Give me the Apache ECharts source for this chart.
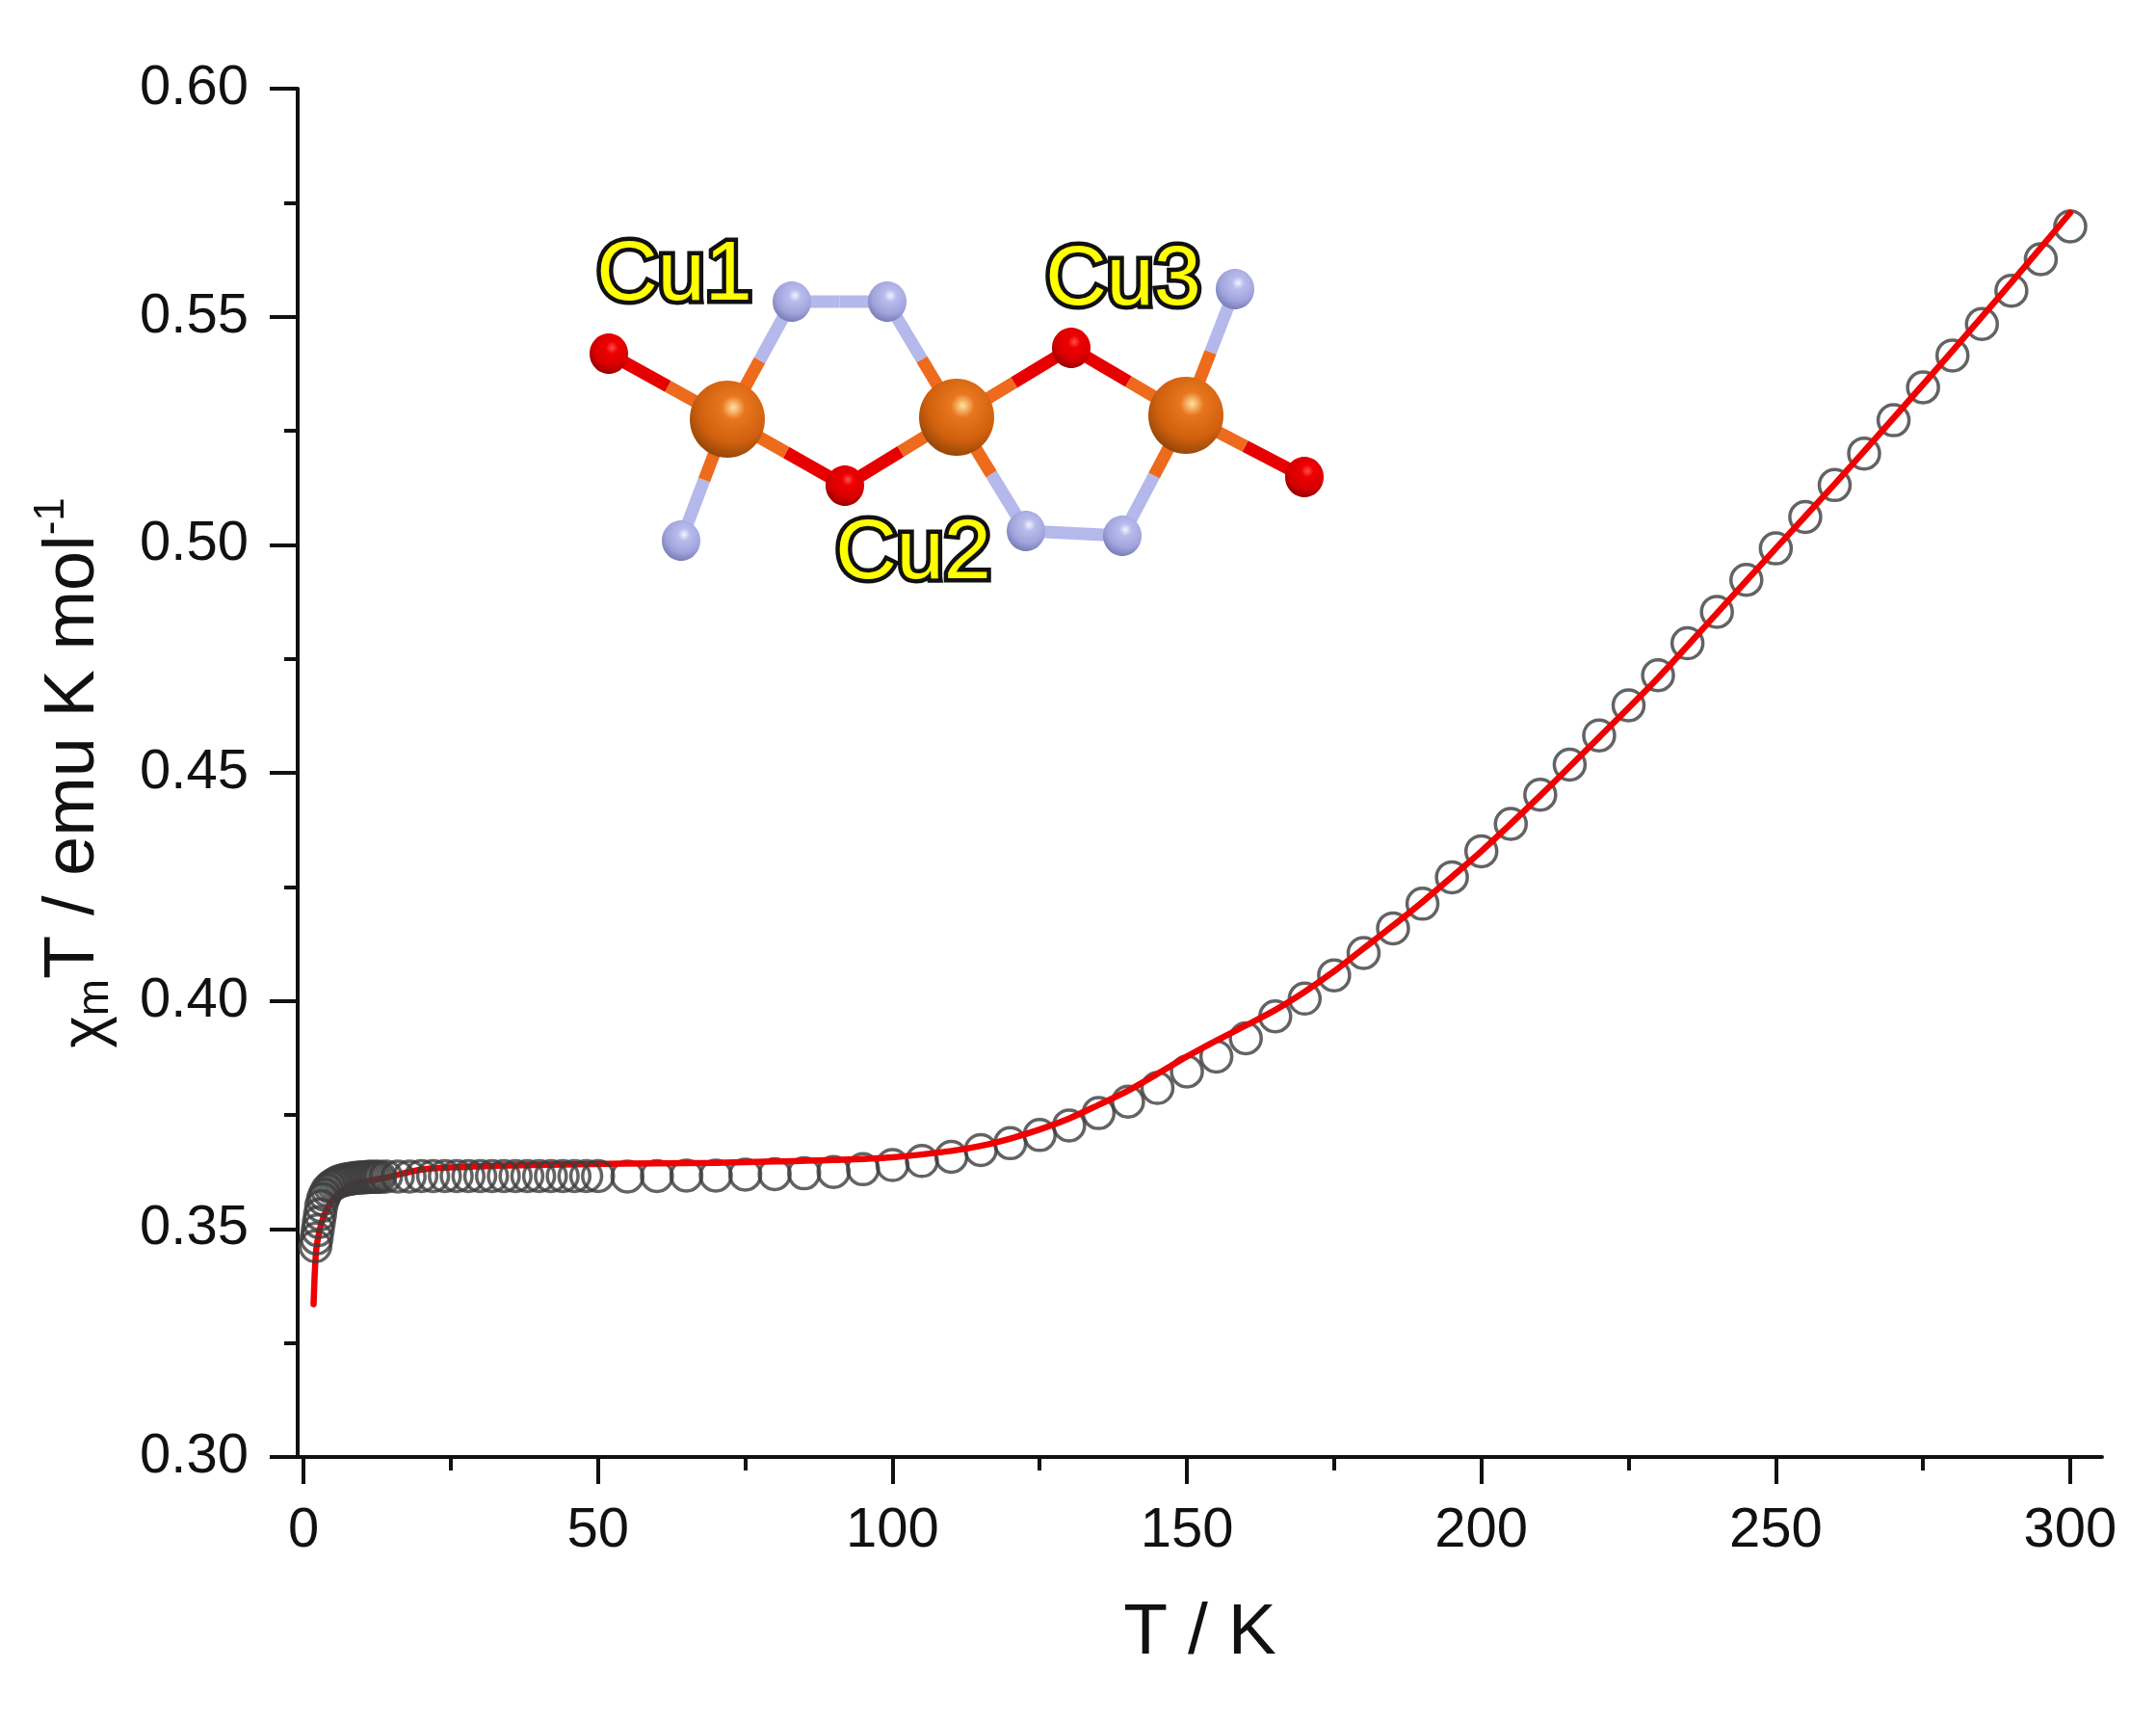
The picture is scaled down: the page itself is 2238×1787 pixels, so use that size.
<!DOCTYPE html>
<html>
<head>
<meta charset="utf-8">
<title>chi T vs T</title>
<script src="https://cdn.jsdelivr.net/npm/echarts@6/dist/echarts.min.js"></script>
<style>
html, body { margin: 0; padding: 0; background: #fff; }
#main { width: 2238px; height: 1787px; }
</style>
</head>
<body>
<div id="main"></div>
<script>
// data
var lowT = [2, 2.2, 2.4, 2.6, 2.8, 3, 3.3, 3.6, 4, 4.5, 5, 5.5, 6, 6.5, 7, 7.5, 8, 8.5, 9, 9.5, 10, 10.5, 11, 11.5, 12, 12.5, 13,
	14, 16, 18, 20, 22, 24, 26, 28, 30, 32, 34, 36, 38, 40, 42, 44, 46, 48, 50];
var lowChi = [0.3462, 0.3479, 0.3497, 0.3515, 0.3532, 0.355, 0.3565, 0.3575, 0.3585, 0.3592, 0.3597, 0.3601, 0.3604, 0.3606, 0.3608, 0.3609, 0.361, 0.3611, 0.3612, 0.3612, 0.3613, 0.3613, 0.3614, 0.3614, 0.3614, 0.3614, 0.3614,
	0.3615, 0.3615, 0.3615, 0.3616, 0.3616, 0.3616, 0.3616, 0.3616, 0.3616, 0.3616, 0.3616, 0.3616, 0.3616, 0.3616, 0.3616, 0.3616, 0.3616, 0.3616, 0.3616];
var highT = [55, 60, 65, 70, 75, 80, 85, 90, 95, 100, 105, 110, 115, 120, 125, 130, 135, 140, 145, 150, 155, 160, 165, 170, 175, 180, 185, 190, 195, 200,
	205, 210, 215, 220, 225, 230, 235, 240, 245, 250, 255, 260, 265, 270, 275, 280, 285, 290, 295, 300];
var highChi = [0.3615, 0.3616, 0.3617, 0.3617, 0.3619, 0.362, 0.3622, 0.3625, 0.3631, 0.364, 0.3649, 0.3658, 0.3673, 0.3688, 0.3706, 0.3727, 0.3754, 0.3779, 0.3809, 0.3845, 0.3878, 0.3918, 0.3966, 0.4005, 0.4056, 0.4105, 0.4159, 0.4213, 0.4271, 0.4328,
	0.4388, 0.4452, 0.4518, 0.4582, 0.4648, 0.4714, 0.4784, 0.4853, 0.4923, 0.4992, 0.5061, 0.5131, 0.52, 0.5273, 0.5345, 0.5415, 0.5484, 0.5557, 0.5626, 0.5698];
var fitT = [1.7, 2.1, 2.6, 3.2, 3.8, 5, 6.5, 8, 10, 13.4, 20, 27.5, 35, 49, 60, 70, 80, 90, 100, 110, 115, 120, 125, 130, 135, 140, 145, 150, 155, 160, 165, 170, 175, 180, 185, 190, 195, 200,
	210, 220, 230, 240, 250, 260, 270, 280, 290, 300];
var fitChi = [0.3335, 0.3448, 0.349, 0.352, 0.3539, 0.3565, 0.3583, 0.3595, 0.3603, 0.3611, 0.363, 0.3636, 0.3639, 0.3642, 0.3644, 0.3645, 0.3648, 0.3651, 0.3657, 0.3671, 0.3682, 0.3698, 0.3718, 0.3742, 0.3772, 0.3803, 0.384, 0.3878, 0.3913, 0.3946, 0.398, 0.402, 0.4065, 0.4115, 0.4165, 0.4217, 0.4272, 0.4328,
	0.445, 0.4578, 0.4708, 0.485, 0.4992, 0.5133, 0.5278, 0.5425, 0.5575, 0.5728];
var xMajorTicks = [0, 50, 100, 150, 200, 250, 300];
var xMinorTicks = [25, 75, 125, 175, 225, 275];

var FONT = '"Liberation Sans", Arial, sans-serif';
var INK = '#111';

function zip(xs, ys) {
	return xs.map(function (x, i) { return [x, ys[i]]; });
}

// molecule inset, page pixels
var atoms = {
	O1: [632, 367, 'O'], O2: [877, 504, 'O'], O3: [1112, 361, 'O'], O4: [1354, 495, 'O'],
	N1: [822, 313, 'N'], N2: [921, 313, 'N'], N3: [707, 561, 'N'], N4: [1282, 300, 'N'], N5: [1065, 551, 'N'], N6: [1165, 556, 'N'],
	Cu1: [755, 435, 'Cu'], Cu2: [993, 433, 'Cu'], Cu3: [1231, 431, 'Cu']
};
var bonds = [['O1', 'Cu1'], ['N1', 'Cu1'], ['N1', 'N2'], ['N2', 'Cu2'], ['O2', 'Cu1'], ['O2', 'Cu2'], ['O3', 'Cu2'], ['O3', 'Cu3'],
	['N4', 'Cu3'], ['O4', 'Cu3'], ['N3', 'Cu1'], ['N5', 'Cu2'], ['N5', 'N6'], ['N6', 'Cu3']];
var bondColor = { O: '#e60000', N: '#b4b8ea', Cu: '#ee6a1c' };
var atomLook = {
	O: { rx: 20, ry: 21, stops: ['#ff5050', '#ee0000', '#d80000', '#900000'] },
	N: { rx: 20, ry: 21, stops: ['#f4f4ff', '#b8bcec', '#a0a4dc', '#7478b0'] },
	Cu: { rx: 39, ry: 40, stops: ['#ffe0a0', '#e8761e', '#d0600e', '#8a4206'] }
};

function moleculeElements() {
	var els = [];
	bonds.forEach(function (b) {
		var p = atoms[b[0]], q = atoms[b[1]];
		var mx = (p[0] + q[0]) / 2, my = (p[1] + q[1]) / 2;
		els.push({ type: 'line', z: 20, shape: { x1: p[0], y1: p[1], x2: mx, y2: my }, style: { stroke: bondColor[p[2]], lineWidth: 13 } });
		els.push({ type: 'line', z: 20, shape: { x1: mx, y1: my, x2: q[0], y2: q[1] }, style: { stroke: bondColor[q[2]], lineWidth: 13 } });
	});
	Object.keys(atoms).forEach(function (k) {
		var a = atoms[k], look = atomLook[a[2]];
		els.push({
			type: 'ellipse', z: 21,
			shape: { cx: a[0], cy: a[1], rx: look.rx, ry: look.ry },
			style: {
				fill: {
					type: 'radial', x: 0.58, y: 0.35, r: 0.72,
					colorStops: [
						{ offset: 0, color: look.stops[0] }, { offset: 0.22, color: look.stops[1] },
						{ offset: 0.65, color: look.stops[2] }, { offset: 1, color: look.stops[3] }
					]
				}
			}
		});
	});
	[['Cu1', 700, 287], ['Cu2', 948, 576], ['Cu3', 1166, 292]].forEach(function (t) {
		els.push({
			type: 'text', z: 22,
			style: {
				x: t[1], y: t[2], text: t[0], align: 'center', verticalAlign: 'middle',
				font: '88px ' + FONT, fill: '#ffff00', stroke: '#111', lineWidth: 9, strokeFirst: true
			}
		});
	});
	return els;
}

var myChart = echarts.init(document.getElementById('main'));
myChart.setOption({
	backgroundColor: '#fff',
	animation: false,
	grid: { left: 309, right: 56, top: 92, bottom: 275, outerBoundsMode: 'none' },
	xAxis: [{
		type: 'value', position: 'bottom', min: -1, max: 305.4,
		name: 'T / K', nameLocation: 'middle', nameGap: 146,
		nameTextStyle: { fontFamily: FONT, fontSize: 75, color: INK },
		axisLine: { onZero: false, lineStyle: { color: INK, width: 4 } },
		axisTick: { length: 28, customValues: xMajorTicks, lineStyle: { color: INK, width: 4 } },
		axisLabel: { customValues: xMajorTicks, margin: 48, fontFamily: FONT, fontSize: 58, color: INK, showMinLabel: true, showMaxLabel: true },
		splitLine: { show: false }
	}, {
		// second axis only carries the short ticks
		type: 'value', position: 'bottom', min: -1, max: 305.4,
		axisLine: { show: false },
		axisTick: { length: 14, customValues: xMinorTicks, lineStyle: { color: INK, width: 4 } },
		axisLabel: { show: false },
		splitLine: { show: false }
	}],
	yAxis: {
		type: 'value', min: 0.30, max: 0.60, interval: 0.05,
		name: '{chi|χ}{sub|m}{main|T / emu K mol}{sup|-1}',
		nameLocation: 'middle', nameRotate: 90, nameGap: 187,
		nameTextStyle: {
			fontFamily: FONT, color: INK,
			rich: {
				main: { fontFamily: FONT, fontSize: 74, color: INK, lineHeight: 90, verticalAlign: 'middle' },
				chi: { fontFamily: FONT, fontSize: 64, color: INK, lineHeight: 70, verticalAlign: 'bottom' },
				sub: { fontFamily: FONT, fontSize: 46, color: INK, lineHeight: 50, verticalAlign: 'bottom' },
				sup: { fontFamily: FONT, fontSize: 44, color: INK, lineHeight: 50, verticalAlign: 'top' }
			}
		},
		axisLine: { onZero: false, lineStyle: { color: INK, width: 4 } },
		axisTick: { length: 29, lineStyle: { color: INK, width: 4 } },
		minorTick: { show: true, splitNumber: 2, length: 14, lineStyle: { color: INK, width: 4 } },
		axisLabel: {
			margin: 51, fontFamily: FONT, fontSize: 58, color: INK,
			formatter: function (v) { return v.toFixed(2); }
		},
		splitLine: { show: false }
	},
	series: [{
		name: 'exp high T', type: 'scatter', z: 3, data: zip(highT, highChi), symbol: 'circle', symbolSize: 32,
		itemStyle: { color: 'rgba(0,0,0,0)', borderColor: '#3c3c3c', borderWidth: 3.5 }
	}, {
		name: 'fit', type: 'line', z: 4, data: zip(fitT, fitChi), showSymbol: false, smooth: 0.3,
		lineStyle: { color: '#f00000', width: 6.5, cap: 'round' }
	}, {
		name: 'exp low T', type: 'scatter', z: 5, data: zip(lowT, lowChi), symbol: 'circle', symbolSize: 32,
		itemStyle: { color: 'rgba(0,0,0,0)', borderColor: '#3c3c3c', borderWidth: 3.5 }
	}],
	graphic: { elements: moleculeElements() }
});
</script>
</body>
</html>
